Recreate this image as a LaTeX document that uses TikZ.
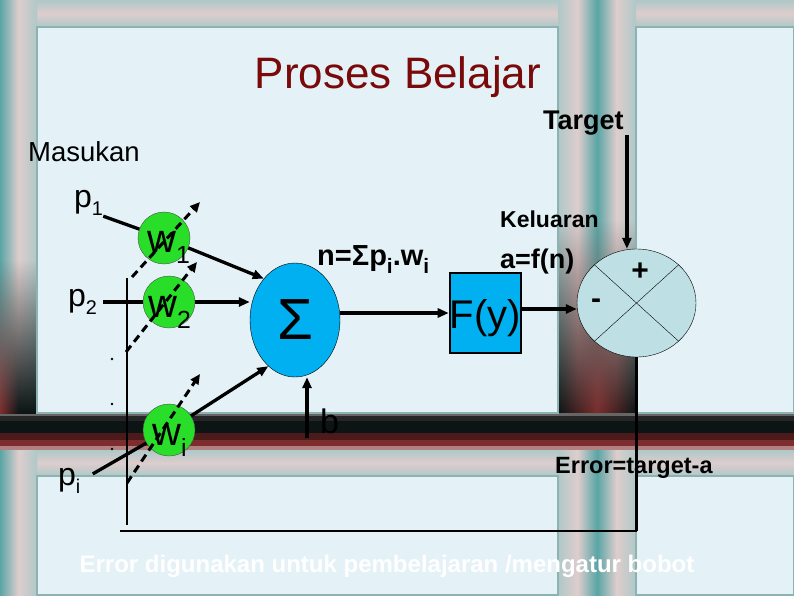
\documentclass[tikz,border=0pt]{standalone}
\usepackage{fontspec}
\setmainfont{Liberation Sans}
\usepackage{xcolor}
\usepackage{graphicx}
\usepackage{tikz}
\usetikzlibrary{shapes,arrows.meta,positioning,calc,fadings}

\definecolor{panelbg}{RGB}{228,241,247}
\definecolor{frteal}{RGB}{90,165,165}
\definecolor{frgray}{RGB}{175,200,200}
\definecolor{frpink}{RGB}{222,205,205}
\definecolor{frlight}{RGB}{210,222,222}
\definecolor{fredge}{RGB}{140,178,178}
\definecolor{frdark}{RGB}{12,20,20}
\definecolor{frmaroon}{RGB}{125,45,45}
\definecolor{titlered}{RGB}{122,10,10}
\definecolor{wgreen}{RGB}{40,222,40}
\definecolor{sumblue}{RGB}{0,176,240}
\definecolor{cmpfill}{RGB}{190,224,228}

\tikzfading[name=fadeup, top color=transparent!100, bottom color=transparent!0]

\newcommand{\fsz}[1]{\fontsize{#1}{#1}\selectfont}
\newcommand{\lowidx}[2][0.62]{\raisebox{-0.28em}{\scalebox{#1}{#2}}}

\begin{document}
\begin{tikzpicture}[x=1pt,y=-1pt,
    wnode/.style={circle,draw=black!70,fill=wgreen,minimum size=52pt,inner sep=0pt},
    lbl/.style={inner sep=0pt,anchor=base west},
    feed/.style={line width=3.3pt},
    conn/.style={line width=3.3pt,-{Triangle[length=11pt,width=9pt]}},
    adjust/.style={line width=3pt,dash pattern=on 8pt off 5pt,-{Triangle[length=10pt,width=9pt]}}]
    \useasboundingbox (0,0) rectangle (794,595);

    % Background frames
    \fill[frlight] (0,0) rectangle (794,595);
    \shade[top color=frgray, bottom color=frgray, middle color=frpink] (0,0) rectangle (794,27);
    \shade[top color=frgray, bottom color=frgray, middle color=frpink] (0,450) rectangle (794,476);
    \shade[left color=frteal, right color=frgray, middle color=frpink] (0,0) rectangle (37,595);
    \shade[left color=frgray, right color=frteal, middle color=frpink] (558,0) rectangle (597,595);
    \shade[left color=frteal, right color=frgray, middle color=frpink] (597,0) rectangle (636,595);
    \foreach \ya/\yb/\c in {413/416/black!60, 416/421/black!85, 421/433/frdark,
                           433/440/frmaroon!60!black, 440/446/frmaroon, 446/450/frmaroon!60!white}
        \fill[\c] (0,\ya) rectangle (794,\yb);
    \shade[left color=frmaroon, right color=frdark, middle color=frdark, path fading=fadeup] (0,260) rectangle (37,413);
    \shade[left color=frdark, right color=frdark, middle color=frmaroon, path fading=fadeup] (558,220) rectangle (636,413);
    \foreach \x/\y/\xx/\yy in {37/27/558/413, 636/27/794/413, 37/476/558/595, 636/476/794/595}
        \fill[panelbg, draw=fredge, line width=1.5pt] (\x,\y) rectangle (\xx,\yy);

    % Texts
    \node[lbl, anchor=base, font={\fsz{44}}, text=titlered] (title) at (398,88) {Proses Belajar};
    \node[lbl, font={\fsz{27.5}}] (masukan) at (28,161) {Masukan};
    \node[lbl, font={\bfseries\fsz{27}}] (tgt) at (543,129) {Target};
    \node[lbl, font={\bfseries\fsz{23}}] (kel) at (500,227) {Keluaran};
    \node[lbl, font={\bfseries\fsz{27}}] (afn) at (500,268) {a=f(n)};
    \node[lbl, font={\bfseries\fsz{29}}] (nsum) at (317,265) {n=Σp\lowidx[0.72]{i}.w\lowidx[0.72]{i}};

    % Inputs
    \node[lbl, font={\fsz{32}}] (p1) at (74,207) {p\lowidx{1}};
    \node[lbl, font={\fsz{32}}] (p2) at (68,306) {p\lowidx{2}};
    \node[lbl, font={\fsz{32}}] (pin) at (58,485) {p\lowidx{i}};
    \foreach \y in {359,404,449}
        \fill (112,\y) circle (1.4pt);

    % Weights
    \node[wnode] (w1) at (164,238) {};
    \node[wnode] (w2) at (169,302) {};
    \node[wnode] (wn) at (169,430) {};
    \node[lbl, font={\fsz{40}}] (w1lbl) at (147,252) {w\lowidx{1}};
    \node[lbl, font={\fsz{40}}] (w2lbl) at (148,317) {w\lowidx{2}};
    \node[lbl, font={\fsz{40}}] (wnlbl) at (152,445) {w\lowidx{i}};

    % Sum, activation and comparison
    \node[ellipse, draw, fill=sumblue, minimum width=90pt, minimum height=114pt, inner sep=0pt, font={\fsz{58}}] (sig) at (295,320) {Σ};
    \node[draw, line width=2.5pt, fill=sumblue, minimum width=67pt, minimum height=80pt, inner sep=0pt,
          text height=33pt, text depth=3pt, font={\fsz{40}}] (fy) at (485.5,313) {F(y)};
    \node[ellipse, draw, fill=cmpfill, minimum width=119pt, minimum height=108pt, inner sep=0pt] (cmp) at (636.5,303) {};
    \draw (cmp.north west) -- (cmp.south east);
    \draw (cmp.north east) -- (cmp.south west);
    \node[font={\bfseries\fsz{30}}] (plus) at (640,272) {+};
    \node[font={\bfseries\fsz{30}}] (minus) at (596,304) {-};
    \node[lbl, font={\fsz{34}}] (bl) at (320,433) {b};
    \coordinate (bfoot) at (307,438);

    % Connections
    \draw[feed] (p1.south east) -- (w1);
    \draw[feed, shorten <=6pt] (p2.east |- w2) -- (w2);
    \draw[feed, shorten <=14pt] (pin.east) -- (wn);
    \draw[conn] (w1) -- (sig.127);
    \draw[conn] (w2) -- (w2 -| sig.west);
    \draw[conn] (wn) -- (sig.240);
    \draw[conn] (sig.east |- fy.west) -- (fy.west);
    \draw[conn] ([yshift=4pt]fy.east) -- ([yshift=4pt]fy.east -| cmp.west);
    \draw[conn] (bfoot) -- (bfoot |- sig.south);
    \draw[conn] ([xshift=3pt]tgt.south east) -- ([xshift=3pt]tgt.south east |- cmp.north);

    % Error feedback loop
    \node[lbl, font={\bfseries\fsz{23.5}}] (err) at (555,473) {Error=target-a};
    \node[lbl, anchor=base, font={\bfseries\fsz{24}}, text=white] (note) at (387,572) {Error digunakan untuk pembelajaran /mengatur bobot};
    \coordinate (loopL) at (120,531);
    \coordinate (loopR) at (cmp.south |- loopL);
    \coordinate (loopB) at (127,525);
    \coordinate (loopT) at (127,278);
    \draw[line width=3.5pt] (cmp.south) -- (loopR);
    \draw[line width=1.2pt] (loopR) -- (loopL);
    \draw[line width=1.2pt] (loopB) -- (loopT);

    % Weight updates
    \draw[adjust] ($(w1)+(-32,39)$) -- ($(w1)+(36,-36)$);
    \draw[adjust] ($(w2)+(-43,50)$) -- ($(w2)+(28,-40)$);
    \draw[adjust] ($(wn)+(-42,53)$) -- ($(wn)+(31,-56)$);
\end{tikzpicture}
\end{document}
